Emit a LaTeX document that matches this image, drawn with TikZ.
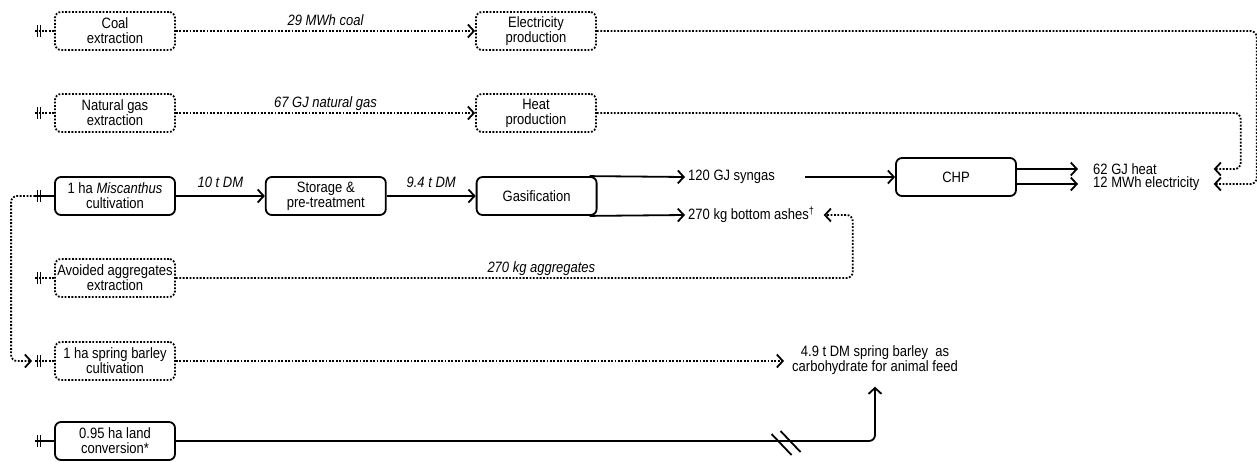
\documentclass[tikz,border=0pt]{standalone}
\usepackage{fontspec}
\setmainfont{Liberation Sans}[FakeStretch=0.867]
\usetikzlibrary{arrows.meta,positioning,calc}

\newcommand{\diagfont}{\fontsize{15}{15}\selectfont}

\tikzset{
  procbox/.style={rectangle, draw, rounded corners=6pt, line width=1.8pt, minimum width=120pt, minimum height=38pt, align=center, inner sep=1pt},
  avoidbox/.style={procbox, dash pattern=on 1.8pt off 1.6pt},
  flow/.style={line width=1.8pt, -{Straight Barb[length=6pt,width=13pt]}},
  dotflow/.style={flow, dash pattern=on 1.8pt off 1.6pt},
  stub/.style={line width=1.8pt},
  dotstub/.style={stub, dash pattern=on 1.8pt off 1.6pt},
  qty/.style={above, font=\diagfont\itshape, inner sep=2pt, text depth=3pt},
  outtext/.style={anchor=west, inner sep=3pt},
  srcmark/.pic={\draw[solid, line width=1.6pt] (2.5,-6) -- (2.5,6) (5.5,-6) -- (5.5,6);}
}

\begin{document}
\begin{tikzpicture}[x=1pt, y=-1pt, font=\diagfont]
    \useasboundingbox (0,0) rectangle (1257,461);

    % processes
    \node[avoidbox] (coal) at (115,31) {Coal\\extraction};
    \node[avoidbox] (natgas) at (115,113) {Natural gas\\extraction};
    \node[avoidbox] (elec) at (536,31) {Electricity\\production};
    \node[avoidbox] (heat) at (536,113) {Heat\\production};
    \node[procbox] (misc) at (115,196) {1 ha \textit{Miscanthus}\\cultivation};
    \node[procbox, right=89pt of misc] (store) {Storage \&\\pre-treatment};
    \node[procbox, right=89pt of store] (gasif) {Gasification};
    \node[procbox] (chp) at (956,177) {CHP};
    \node[avoidbox] (agg) at (115,278) {Avoided aggregates\\extraction};
    \node[avoidbox] (barley) at (115,361) {1 ha spring barley\\cultivation};
    \node[procbox] (land) at (115,441) {0.95 ha land\\conversion*};

    % products
    \node[outtext] (syngas) at (685,177) {120 GJ syngas};
    \node[outtext] (ashes) at (685,215) {270 kg bottom ashes\textsuperscript{†}};
    \node[outtext] (heatout) at (1090,169) {62 GJ heat};
    \node[outtext] (elecout) at (1090,184) {12 MWh electricity};
    \node[align=center, inner xsep=8pt, inner ysep=12pt] (feed) at (875,360) {4.9 t DM spring barley\ \ as\\carbohydrate for animal feed};

    % inputs from the left
    \foreach \b in {coal,natgas,misc,agg,barley,land}
        \coordinate (s\b) at ($(\b.west)+(-19,0)$);
    \foreach \b in {coal,natgas,agg,barley}
        \draw[dotstub] (s\b) -- (\b.west);
    \foreach \b in {misc,land}
        \draw[stub] (s\b) -- (\b.west);
    \foreach \b in {coal,natgas,misc,agg,barley,land}
        \pic at (s\b) {srcmark};

    \draw[dotflow, rounded corners=6pt] (smisc) -- ++(-24,0) |- ($(sbarley)+(-3,0)$);

    % flows
    \draw[dotflow] (coal) -- node[qty] {29 MWh coal} (elec);
    \draw[dotflow] (natgas) -- node[qty] {67 GJ natural gas} (heat);
    \draw[flow] (misc) -- node[qty, yshift=3pt] {10 t DM} (store);
    \draw[flow] (store) -- node[qty, yshift=3pt] {9.4 t DM} (gasif);
    \draw[flow] ([xshift=-8pt]gasif.north east) -- (syngas.west);
    \draw[flow] ([xshift=-8pt]gasif.south east) -- (ashes.west);
    \draw[flow, shorten <=27pt] (syngas.east) -- (chp.west);
    \draw[flow, shorten >=12pt] ([yshift=8pt]chp.east) -- (heatout.west);
    \draw[flow, shorten >=12pt] ([yshift=-7pt]chp.east) -- (elecout.west);

    \draw[dotflow, rounded corners=6pt] (elec.east) -| ($(elecout.east)+(54,0)$) -- ($(elecout.east)+(11,0)$);
    \draw[dotflow, rounded corners=6pt] (heat.east) -| ($(elecout.east|-heatout.east)+(38,0)$) -- ($(elecout.east|-heatout.east)+(11,0)$);
    \draw[dotflow, rounded corners=6pt] (agg.east) -| node[qty, pos=0.27] {270 kg aggregates} ($(ashes.east)+(35,0)$) -- ($(ashes.east)+(6,0)$);

    \draw[dotflow] (barley) -- (barley.east -| feed.west);
    \draw[flow, rounded corners=6pt] (land.east) -| coordinate[pos=0.436] (brk) (feed.south);
    \draw[stub] ($(brk)+(-14,-7)$) -- ($(brk)+(6,14)$);
    \draw[stub] ($(brk)+(-5,-10)$) -- ($(brk)+(15,11)$);
\end{tikzpicture}
\end{document}
